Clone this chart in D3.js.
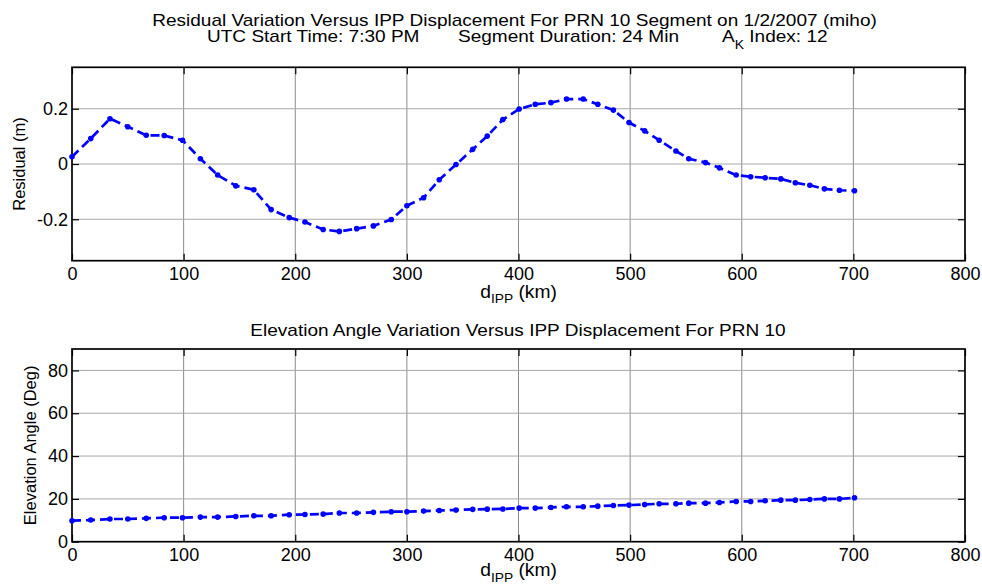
<!DOCTYPE html>
<html><head><meta charset="utf-8">
<script src="https://cdn.jsdelivr.net/npm/d3@7"></script>
<style>
html,body{margin:0;padding:0;background:#fff;}
text{font-family:"Liberation Sans",Arial,sans-serif;fill:#000;}
</style></head>
<body><svg id="c" width="982" height="586"></svg>
<script>
const dIPP = [0,16.8,34,50,66.5,82.6,99,115,130.5,146.7,162.9,178.4,194.6,208.7,225,239.5,255,270,286,300,315,329,344,359,372,386,400.6,415,429,443,458,471,485,499,513,526,541,552.5,567.5,580,595,608,621,635,648,661,674,687.5,701];
const residual = [0.026,0.092,0.164,0.135,0.104,0.103,0.086,0.019,-0.040,-0.079,-0.093,-0.165,-0.194,-0.210,-0.237,-0.244,-0.234,-0.224,-0.201,-0.151,-0.122,-0.057,-0.002,0.053,0.101,0.161,0.199,0.216,0.222,0.235,0.235,0.216,0.195,0.150,0.120,0.086,0.047,0.019,0.005,-0.014,-0.040,-0.046,-0.050,-0.054,-0.068,-0.077,-0.090,-0.095,-0.097];
const elevation = [9.8,10.1,10.6,10.6,10.9,11.2,11.2,11.5,11.5,11.8,12.1,12.1,12.6,12.7,12.9,13.4,13.4,13.7,14.0,14.0,14.3,14.6,14.8,15.1,15.2,15.3,15.7,15.7,16.0,16.3,16.3,16.6,16.9,17.1,17.4,17.7,17.7,18.0,18.0,18.3,18.8,18.8,19.1,19.4,19.4,19.7,20.0,20.0,20.5];
const xTicks = [0,100,200,300,400,500,600,700,800];
const resTicks = [-0.2,0,0.2];
const resTickLabels = ["-0.2","0","0.2"];
const elTicks = [0,20,40,60,80];
const titleLine1 = "Residual Variation Versus IPP Displacement For PRN 10 Segment on 1/2/2007 (miho)";
const title2 = "Elevation Angle Variation Versus IPP Displacement For PRN 10";

const svg = d3.select("#c");
const FS = 18;
const TFS = 17, SX = 1.12;
const L = 72, R = 965;
const x = d3.scaleLinear().domain([0,800]).range([L,R]);

function scaledText(px, py, anchor) {
  return svg.append("text").attr("transform",`translate(${px},${py}) scale(${SX},1)`)
    .attr("text-anchor",anchor).attr("font-size",TFS);
}

function panel(top, bottom, yDomain, yTicks, yLabels, values, ylabel, ylabX, xlabOff) {
  const y = d3.scaleLinear().domain(yDomain).range([bottom, top]);
  const g = svg.append("g");
  // grid
  g.selectAll(".vg").data(xTicks.slice(1,-1)).join("line")
    .attr("x1", d=>x(d)).attr("x2", d=>x(d)).attr("y1", top).attr("y2", bottom)
    .attr("stroke", "#8c8c8c").attr("stroke-width", 1);
  g.selectAll(".hg").data(yTicks.filter(t=>y(t)>top+1 && y(t)<bottom-1)).join("line")
    .attr("x1", L).attr("x2", R).attr("y1", d=>y(d)).attr("y2", d=>y(d))
    .attr("stroke", "#a8a8a8").attr("stroke-width", 1);
  // axes (inward ticks)
  const tl = 7;
  const xb = d3.axisBottom(x).tickValues(xTicks).tickSize(-tl).tickPadding(7).tickFormat(d3.format("d"));
  const xt = d3.axisTop(x).tickValues(xTicks).tickSize(-tl).tickFormat("");
  const yl = d3.axisLeft(y).tickValues(yTicks).tickSize(-tl).tickPadding(4).tickFormat((d,i)=>yLabels[i]);
  const yr = d3.axisRight(y).tickValues(yTicks).tickSize(-tl).tickFormat("");
  const ax = [
    g.append("g").attr("transform",`translate(0,${bottom})`).call(xb),
    g.append("g").attr("transform",`translate(0,${top})`).call(xt),
    g.append("g").attr("transform",`translate(${L},0)`).call(yl),
    g.append("g").attr("transform",`translate(${R},0)`).call(yr)
  ];
  ax.forEach(a=>{
    a.select(".domain").remove();
    a.selectAll(".tick line").attr("stroke","#000").attr("stroke-width",1.2);
    a.selectAll("text").attr("font-size",FS).attr("font-family","Liberation Sans, Arial, sans-serif").attr("fill","#000");
  });
  // box
  g.append("rect").attr("x",L).attr("y",top).attr("width",R-L).attr("height",bottom-top)
    .attr("fill","none").attr("stroke","#000").attr("stroke-width",1.7);
  // line
  const pts = dIPP.map((d,i)=>[d, values[i]]);
  const line = d3.line().x(d=>x(d[0])).y(d=>y(d[1]));
  g.append("path").datum(pts).attr("d", line).attr("fill","none")
    .attr("stroke","#0000ff").attr("stroke-width",2.7).attr("stroke-dasharray","9,5");
  g.selectAll(".pt").data(pts).join("circle")
    .attr("cx", d=>x(d[0])).attr("cy", d=>y(d[1])).attr("r", 2.8).attr("fill","#0000ff");
  // y label
  svg.append("text").attr("transform",`translate(${ylabX},${(top+bottom)/2}) rotate(-90)`)
    .attr("text-anchor","middle").attr("font-size",16.5).text(ylabel);
  // x label
  const xl = svg.append("text").attr("transform",`translate(${(L+R)/2},${bottom+xlabOff}) scale(1.1,1)`)
    .attr("text-anchor","middle").attr("font-size",17.5);
  xl.append("tspan").text("d");
  xl.append("tspan").attr("font-size",12.5).attr("dy",5.5).text("IPP");
  xl.append("tspan").attr("dy",-5.5).text(" (km)");
  return y;
}

panel(67.3, 260.7, [-0.35,0.35], resTicks, resTickLabels, residual, "Residual (m)", 25, 37);
panel(349, 541.7, [0,90], elTicks, elTicks.map(String), elevation, "Elevation Angle (Deg)", 36, 34.5);

// titles
scaledText(514.5, 25.5, "middle").text(titleLine1);
scaledText(207, 42, "start").text("UTC Start Time: 7:30 PM");
scaledText(458, 42, "start").text("Segment Duration: 24 Min");
const ak = scaledText(722, 42, "start");
ak.append("tspan").text("A");
ak.append("tspan").attr("font-size",12.5).attr("dy",6.5).text("K");
ak.append("tspan").attr("dy",-6.5).text(" Index: 12");
scaledText(518, 336, "middle").text(title2);
</script></body></html>
